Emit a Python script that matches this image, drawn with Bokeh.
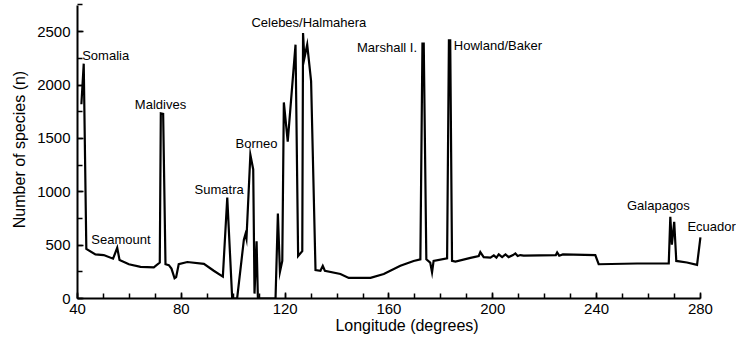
from bokeh.plotting import figure
from bokeh.models import Range1d, FixedTicker, Label
from bokeh.embed import file_html
from bokeh.resources import INLINE

# Longitude (degrees) and number of species (n)
longitude = [41.5, 42.4, 43.4, 46.9, 50.1, 53.7, 55.3, 56.2, 59.8, 64.3, 69.4, 71.7,
             72.1, 73.0, 73.9, 75.2, 76.2, 77.4, 78.0, 79.0, 82.3, 88.7, 92.5, 96.0,
             97.7, 99.6, 101.5, 104.1, 104.7, 105.1, 106.6, 107.7, 108.2, 109.0, 109.5,
             116.3, 117.2, 118.0, 118.9, 119.5, 121.0, 124.0, 125.0, 126.6, 126.9, 127.4,
             128.5, 130.0, 131.7, 133.6, 134.5, 135.3, 141.3, 144.5, 152.9, 158.0, 164.4,
             169.5, 172.1, 172.9, 173.4, 174.4, 175.9, 176.6, 177.2, 182.4, 183.1, 183.6,
             184.3, 185.6, 191.4, 194.6, 195.2, 196.5, 199.1, 200.4, 201.4, 202.3, 203.6,
             204.9, 206.1, 207.8, 208.7, 209.6, 210.6, 211.9, 224.3, 224.8, 225.6, 227.0,
             239.5, 240.8, 255.6, 267.8, 268.4, 269.0, 269.9, 270.7, 274.8, 278.7, 280.0]
species = [1820, 2200, 465, 413, 407, 373, 475, 361, 321, 297, 291, 337,
           1735, 1730, 321, 312, 280, 190, 200, 321, 342, 325, 260, 205,
           945, 0, 0, 551, 603, 560, 1347, 1209, 46, 536, 0,
           0, 796, 250, 352, 1837, 1469, 2378, 398, 444, 2488, 2250,
           2378, 2036, 266, 260, 306, 260, 230, 193, 193, 230, 306,
           352, 367, 2388, 2388, 367, 337, 245, 352, 376, 2418, 2418,
           352, 346, 380, 398, 434, 388, 383, 404, 383, 413, 388,
           413, 388, 407, 422, 398, 407, 401, 407, 432, 401, 413,
           407, 321, 328, 328, 765, 505, 719, 352, 337, 315, 572]

x_major_ticks = [40, 80, 120, 160, 200, 240, 280]
y_major_ticks = [0, 500, 1000, 1500, 2000, 2500]
x_axis_extent = (40, 280)
y_axis_extent = (0, 2745)

site_names = ["Somalia", "Seamount", "Maldives", "Sumatra", "Borneo",
              "Celebes/Halmahera", "Marshall I.", "Howland/Baker", "Galapagos", "Ecuador"]
# label anchor positions (data units), left edge / vertical middle
site_label_x = [41.8, 45.3, 62.1, 85.1, 100.9, 107.0, 147.7, 185.0, 251.7, 275.0]
site_label_y = [2273, 551, 1818, 1024, 1451, 2585, 2353, 2372, 872, 673]

FONT = "Liberation Sans"

p = figure(width=736, height=336, output_backend="svg", toolbar_location=None,
           x_range=Range1d(40, 293.9), y_range=Range1d(0, 2792),
           min_border_left=77, min_border_right=0, min_border_top=0, min_border_bottom=36)
p.outline_line_color = None
p.xgrid.grid_line_color = None
p.ygrid.grid_line_color = None
p.background_fill_color = "white"
p.border_fill_color = "white"

p.line(longitude, species, line_color="black", line_width=2.2, line_join="miter")

p.xaxis.ticker = FixedTicker(ticks=x_major_ticks,
                             minor_ticks=list(range(40, 281, 10)))
p.yaxis.ticker = FixedTicker(ticks=y_major_ticks,
                             minor_ticks=list(range(0, 2751, 250)))
p.xaxis.bounds = x_axis_extent
p.yaxis.bounds = y_axis_extent
p.xaxis.axis_label = "Longitude (degrees)"
p.yaxis.axis_label = "Number of species (n)"

for ax in (p.xaxis[0], p.yaxis[0]):
    ax.axis_line_width = 2
    ax.axis_line_color = "black"
    ax.major_tick_in = 6
    ax.major_tick_out = 0
    ax.minor_tick_in = 5
    ax.minor_tick_out = 0
    ax.major_tick_line_width = 1.5
    ax.minor_tick_line_width = 1.5
    ax.major_tick_line_color = "black"
    ax.minor_tick_line_color = "black"
    ax.major_label_text_font = FONT
    ax.major_label_text_font_size = "15px"
    ax.major_label_text_color = "black"
    ax.axis_label_text_font = FONT
    ax.axis_label_text_font_size = "16px"
    ax.axis_label_text_font_style = "normal"
    ax.axis_label_text_color = "black"

p.xaxis.major_label_standoff = 5
p.xaxis.axis_label_standoff = 0
p.yaxis.major_label_standoff = 7
p.yaxis.axis_label_standoff = 6

for name, lx, ly in zip(site_names, site_label_x, site_label_y):
    p.add_layout(Label(x=lx, y=ly, text=name, text_font=FONT, text_font_size="13px",
                       text_color="black", text_align="left", text_baseline="middle"))

open("out.html", "w").write(file_html(p, INLINE))
